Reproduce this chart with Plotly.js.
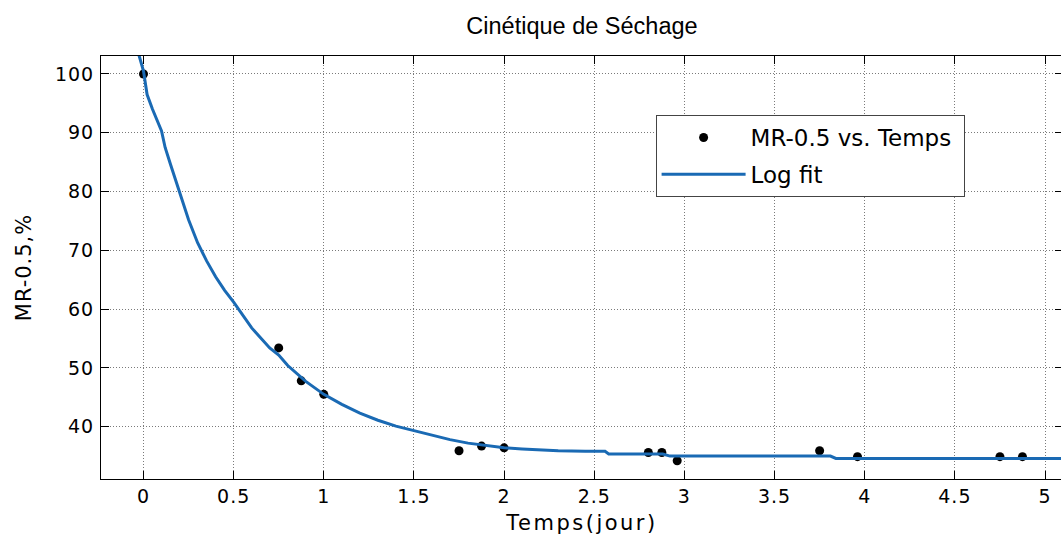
<!DOCTYPE html>
<html>
<head>
<meta charset="utf-8">
<script src="https://cdn.plot.ly/plotly-3.0.1.min.js"></script>
<style>
  html, body { margin: 0; padding: 0; overflow: hidden; background: #fff; }
  #chart { width: 1063px; height: 540px; }
  #chart g.xtick text, #chart g.ytick text { letter-spacing: 1px; }
  #chart text.xtitle { letter-spacing: 2.5px; }
  #chart text.ytitle { letter-spacing: 1px; }
</style>
</head>
<body>
<div id="chart"></div>
<script>
// Measured data points
const temps = [0, 0.75, 0.875, 1.0, 1.75, 1.875, 2.0, 2.8, 2.875, 2.96, 3.75, 3.96, 4.75, 4.875];
const mr = [100, 53.4, 47.8, 45.5, 35.9, 36.7, 36.4, 35.6, 35.6, 34.2, 35.9, 34.9, 34.9, 34.9];

// Fit curve
const fitX = [-0.04, 0, 0.02, 0.05, 0.1, 0.12, 0.15, 0.2, 0.25, 0.3, 0.35, 0.4, 0.45, 0.5, 0.6, 0.7, 0.75, 0.8, 0.9, 1.0, 1.1, 1.2, 1.3, 1.4, 1.5, 1.6, 1.7, 1.8, 1.9, 2.0, 2.1, 2.2, 2.3, 2.45, 2.56, 2.58, 2.88, 2.92, 3.81, 3.84, 5.2];
const fitY = [104.8, 100.5, 96.5, 94.0, 90.3, 87.5, 84.6, 80.0, 75.2, 71.3, 68.2, 65.5, 63.2, 61.2, 56.8, 53.4, 52.2, 50.4, 47.7, 45.5, 43.8, 42.3, 41.1, 40.1, 39.3, 38.5, 37.8, 37.2, 36.8, 36.4, 36.2, 36.0, 35.9, 35.8, 35.8, 35.35, 35.35, 35.0, 35.0, 34.6, 34.6];

const xTicks = [0, 0.5, 1, 1.5, 2, 2.5, 3, 3.5, 4, 4.5, 5];
const xTickText = ['0', '0.5', '1', '1.5', '2', '2.5', '3', '3.5', '4', '4.5', '5'];
const yTicks = [40, 50, 60, 70, 80, 90, 100];
const yTickText = ['40', '50', '60', '70', '80', '90', '100'];

const tickFont = { family: 'DejaVu Sans, Liberation Sans, sans-serif', size: 19, color: '#000' };
const axisTitleFont = { family: 'DejaVu Sans, Liberation Sans, sans-serif', size: 21, color: '#000' };

const traces = [
  {
    x: temps, y: mr, type: 'scatter', mode: 'markers',
    name: 'MR-0.5 vs. Temps\u00a0',
    marker: { color: '#000', size: 9 },
    legendgroup: 'a'
  },
  {
    x: fitX, y: fitY, type: 'scatter', mode: 'lines',
    name: 'Log fit',
    line: { color: '#1a6ab4', width: 3 },
    legendgroup: 'b'
  }
];

const layout = {
  width: 1063, height: 540,
  margin: { l: 101, r: 0, t: 56, b: 61 },
  paper_bgcolor: '#fff', plot_bgcolor: '#fff',
  title: {
    text: 'Cinétique de Séchage',
    font: { family: 'Liberation Sans, Arial, sans-serif', size: 23.5, color: '#000' },
    x: 0.5, xref: 'paper', y: 0.953, yref: 'container', yanchor: 'middle'
  },
  xaxis: {
    range: [-0.2357, 5.0998],
    tickvals: xTicks, ticktext: xTickText,
    ticks: 'inside', ticklen: 8, tickcolor: '#000', tickwidth: 1,
    showline: true, linecolor: '#000', linewidth: 1, mirror: 'ticks',
    showgrid: true, gridcolor: '#7a7a7a', griddash: '1px,2px', gridwidth: 1,
    zeroline: false,
    tickfont: tickFont,
    title: { text: 'Temps(jour)', font: axisTitleFont, standoff: 9 }
  },
  yaxis: {
    range: [31.1, 103.06],
    tickvals: yTicks, ticktext: yTickText,
    ticks: 'inside', ticklen: 8, tickcolor: '#000', tickwidth: 1,
    showline: true, linecolor: '#000', linewidth: 1, mirror: 'ticks',
    showgrid: true, gridcolor: '#7a7a7a', griddash: '1px,2px', gridwidth: 1,
    zeroline: false,
    tickfont: tickFont, ticklabelstandoff: 2,
    title: { text: 'MR-0.5,%', font: axisTitleFont, standoff: 20 }
  },
  showlegend: true,
  legend: {
    x: 0.5765, y: 0.8605, xanchor: 'left', yanchor: 'top',
    bgcolor: '#fff', bordercolor: '#444', borderwidth: 1,
    font: { family: 'DejaVu Sans, sans-serif', size: 23, color: '#000' },
    itemwidth: 84, tracegroupgap: 4
  }
};

Plotly.newPlot('chart', traces, layout, { staticPlot: true, displayModeBar: false });
</script>
</body>
</html>
